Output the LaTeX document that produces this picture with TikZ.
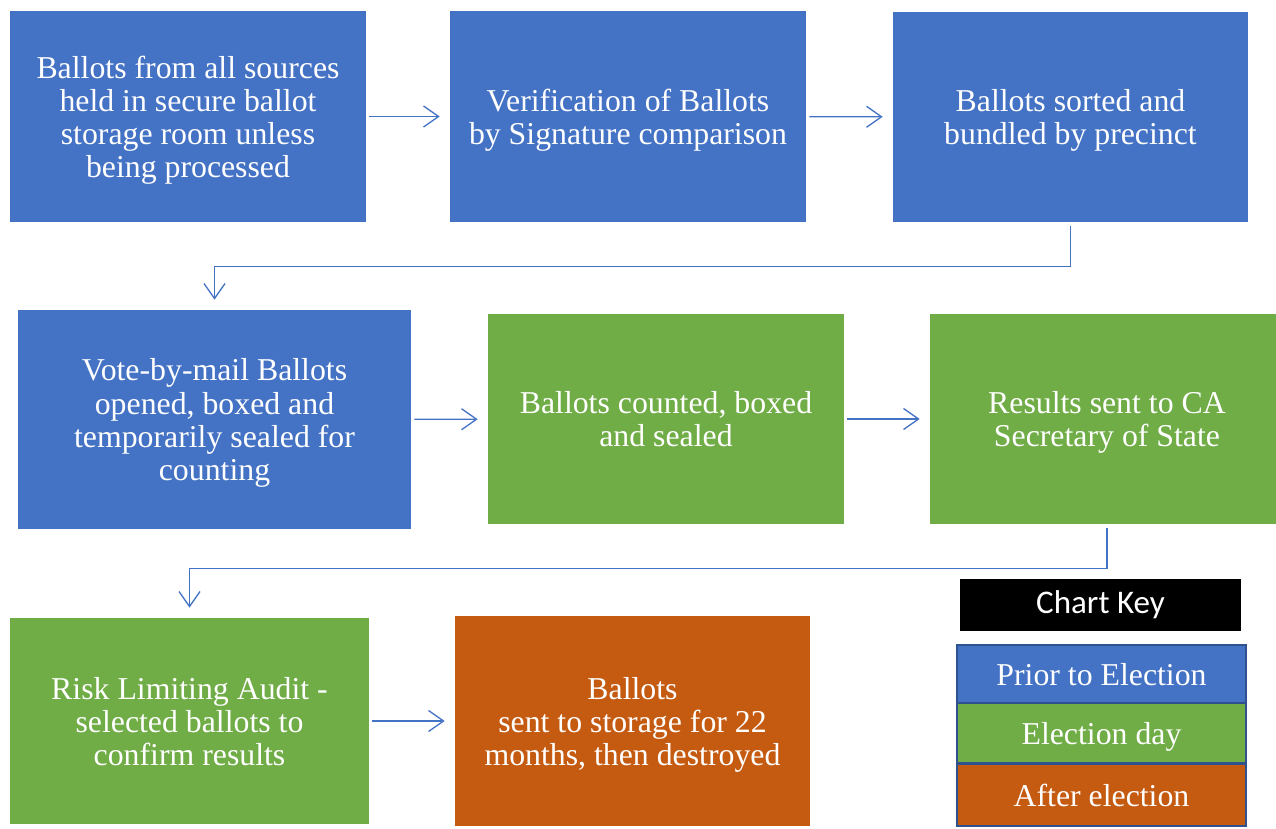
\documentclass[tikz,border=0pt]{standalone}
\usepackage{fontspec}
\setmainfont{Liberation Serif}
\newfontfamily\keyfont{Carlito}
\usetikzlibrary{arrows.meta}

\definecolor{prior}{HTML}{4472C4}
\definecolor{eday}{HTML}{70AD47}
\definecolor{after}{HTML}{C55A11}
\definecolor{keyline}{HTML}{2F528F}

\tikzset{
  stage/.style={fill=#1,text=white,inner sep=0pt,align=center,
    font=\fontsize{18.1}{18.8}\selectfont,text depth=0pt},
  keyrow/.style={stage=#1,draw=keyline,line width=1.2pt,
    minimum width=5.78cm},
  flow/.style={draw=prior,line width=0.75pt,
    -{Straight Barb[length=0.3cm,width=0.42cm]},
    shorten <=0.06cm,shorten >=0.2cm}
}

\begin{document}
\begin{tikzpicture}[x=0.02cm,y=-0.02cm]
\useasboundingbox (0,0) rectangle (1276,829);
% prior to election
\node (hold) [stage=prior,minimum width=7.12cm,minimum height=4.22cm] at (188,116.5) {Ballots from all sources\\held in secure ballot\\storage room unless\\being processed};
\node (verify) [stage=prior,minimum width=7.12cm,minimum height=4.22cm] at (628,116.5) {Verification of Ballots\\by Signature comparison};
\node (sort) [stage=prior,minimum width=7.10cm,minimum height=4.20cm] at (1070.5,117) {Ballots sorted and\\bundled by precinct};
\node (open) [stage=prior,minimum width=7.86cm,minimum height=4.38cm] at (214.5,419.5) {Vote-by-mail Ballots\\opened, boxed and\\temporarily sealed for\\counting};
% election day
\node (count) [stage=eday,minimum width=7.12cm,minimum height=4.20cm] at (666,419) {Ballots counted, boxed\\and sealed};
\node (results) [stage=eday,minimum width=6.92cm,minimum height=4.20cm] at (1103,419) {\hspace{0.16cm}Results sent to CA\\\hspace{0.16cm}Secretary of State};
\node (audit) [stage=eday,minimum width=7.18cm,minimum height=4.12cm] at (189.5,721) {Risk Limiting Audit -\\selected ballots to\\confirm results};
% after election
\node (store) [stage=after,minimum width=7.10cm,minimum height=4.20cm] at (632.5,721) {Ballots\\sent to storage for 22\\months, then destroyed};

% chart key
\node (keyhead) [fill=black,text=white,minimum width=5.62cm,minimum height=1.04cm,inner sep=0pt,font=\keyfont\fontsize{18.8}{20}\selectfont] at (1100.5,604.5) {Chart Key};
\node (keyprior) [keyrow=prior,minimum height=1.16cm] at (1101.5,674) {Prior to Election};
\node (keyeday) [keyrow=eday,minimum height=1.2cm] at (1101.5,733) {Election day};
\node (keyafter) [keyrow=after,minimum height=1.24cm] at (1101.5,795) {After election};

% connectors
\draw[flow] (hold) -- (verify);
\draw[flow] (verify) -- (sort);
\draw[flow,shorten <=0.08cm] (sort.south) -- ++(0,44) -| (open.north);
\draw[flow] (open) -- (count);
\draw[flow] (count) -- (results);
\draw[flow,shorten <=0.08cm] ([xshift=0.08cm]results.south) -- ++(0,44) -| (audit.north);
\draw[flow] (audit) -- (store);
\end{tikzpicture}
\end{document}
